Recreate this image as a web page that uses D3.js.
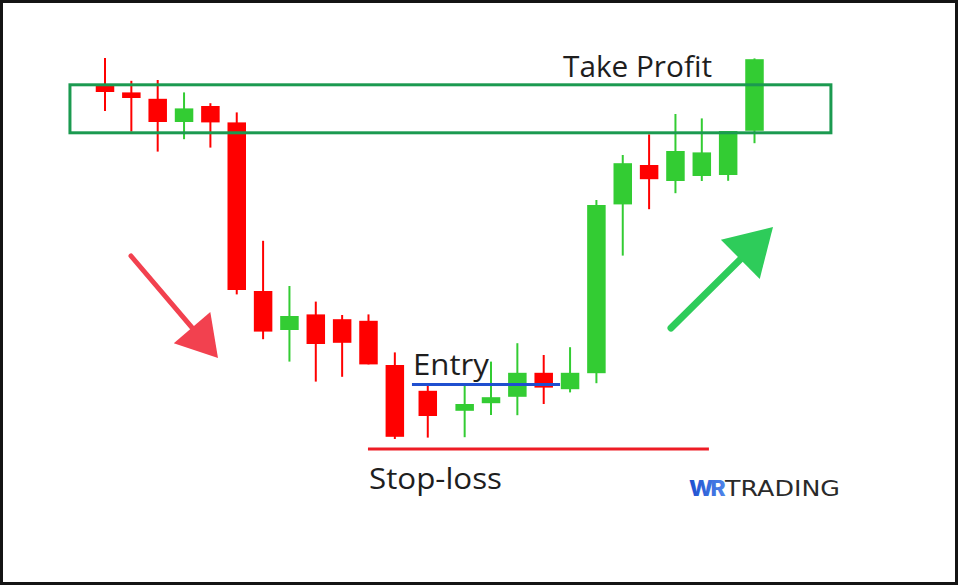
<!DOCTYPE html>
<html><head><meta charset="utf-8">
<script src="https://cdn.jsdelivr.net/npm/d3@7"></script>
<style>html,body{margin:0;padding:0;background:#fff;}svg{display:block;}</style>
</head><body>
<svg id="chart" width="960" height="587"></svg>
<script>
// ---- data ----
const sessions = [0,1,2,3,4,5,6,7,8,9,10,11,12.25,13.65,14.65,15.65,16.65,17.65,18.65,19.65,20.65,21.65,22.65,23.65,24.65];
const opens  = [98.75,96.9,95.3,89.5,93.5,89.4,47.25,37.5,41.4,40.2,39.8,28.75,22.3,17.3,19.2,20.8,26.8,22.7,26.7,68.9,78.75,74.75,76,76.25,87.3];
const highs  = [105.5,99.8,100,96.9,94.2,91.9,59.8,48.5,44.6,41.25,41.4,31.9,23.6,23.75,29.6,34.2,31.25,33.2,70,81.25,86.4,91.5,90.4,87.25,105.4];
const lows   = [92.25,87.1,82.1,85.2,83.1,46.4,35.2,29.6,24.6,25.8,28.9,10.25,10.6,10.7,16.25,16.2,19,21.9,24.2,56.1,67.7,71.7,74.75,74.8,84.2];
const closes = [97,95.5,89.5,92.9,89.4,47.5,37.1,41,34,34.3,28.9,10.8,16,19,20.7,26.8,23.1,26.8,68.75,79.2,75.2,82.25,81.9,87.25,105.2];
const zoneLevels = [86.8, 98.8];         // take-profit zone (low, high)
const zoneSpan = [-1.33, 27.55];         // sessions
const entryLevel = 23.9, entrySpan = [11.65, 17.27];
const stopLevel = 7.75, stopSpan = [9.98, 22.92];
const labels = {tp: "Take Profit", entry: "Entry", stop: "Stop-loss", brandA: "WR", brandB: "TRADING"};

const candles = sessions.map((t,i)=>({t, o:opens[i], h:highs[i], l:lows[i], c:closes[i]}));

const svg = d3.select("#chart");
const x = d3.scaleLinear().domain([0, 24.65]).range([105, 754.5]);
const y = d3.scaleLinear().domain([0, 110]).range([480, 40]);
const RED = "#ff0000", GREEN = "#33cc33";
const bw = 18.5;

// frame
svg.append("rect").attr("x",1.5).attr("y",1.5).attr("width",955).attr("height",582)
  .attr("fill","#fff").attr("stroke","#141414").attr("stroke-width",3);

// candles
const g = svg.append("g");
const cg = g.selectAll("g.c").data(candles).join("g");
cg.append("line")
  .attr("x1",d=>x(d.t)).attr("x2",d=>x(d.t))
  .attr("y1",d=>y(d.h)).attr("y2",d=>y(d.l))
  .attr("stroke",d=>d.c>=d.o?GREEN:RED).attr("stroke-width",2);
cg.append("rect")
  .attr("x",d=>x(d.t)-bw/2).attr("width",bw)
  .attr("y",d=>y(Math.max(d.o,d.c)))
  .attr("height",d=>Math.max(2,Math.abs(y(d.o)-y(d.c))))
  .attr("fill",d=>d.c>=d.o?GREEN:RED);

// take profit zone
svg.append("rect")
  .attr("x",x(zoneSpan[0])).attr("width",x(zoneSpan[1])-x(zoneSpan[0]))
  .attr("y",y(zoneLevels[1])).attr("height",y(zoneLevels[0])-y(zoneLevels[1]))
  .attr("fill","none").attr("stroke","#1b9a50").attr("stroke-width",3);

// entry & stop lines
svg.append("line").attr("x1",x(entrySpan[0])).attr("x2",x(entrySpan[1]))
  .attr("y1",y(entryLevel)).attr("y2",y(entryLevel)).attr("stroke","#1f4fcf").attr("stroke-width",3);
svg.append("line").attr("x1",x(stopSpan[0])).attr("x2",x(stopSpan[1]))
  .attr("y1",y(stopLevel)).attr("y2",y(stopLevel)).attr("stroke","#ee1c25").attr("stroke-width",3);

// text
const font = "'Open Sans', 'Noto Sans', sans-serif";
function label(tx,xx,yy,len){
  svg.append("text").attr("x",xx).attr("y",yy).text(tx)
    .attr("font-family",font).attr("font-size",29.5).attr("fill","#1e1e1e")
    .attr("textLength",len).attr("lengthAdjust","spacingAndGlyphs");
}
label(labels.tp,563,77,149);
label(labels.entry,413,375,76);
label(labels.stop,369,489,133);

// arrows
function arrow(x1,y1,x2,y2,head,color,w){
  const ang = Math.atan2(y2-y1,x2-x1);
  const bx = x2 - head*Math.cos(ang), by = y2 - head*Math.sin(ang);
  svg.append("line").attr("x1",x1).attr("y1",y1).attr("x2",bx).attr("y2",by)
    .attr("stroke",color).attr("stroke-width",w).attr("stroke-linecap","round");
  const px = -Math.sin(ang), py = Math.cos(ang), hw = head*0.6;
  svg.append("path").attr("d",`M${x2},${y2}L${bx+px*hw},${by+py*hw}L${bx-px*hw},${by-py*hw}Z`)
    .attr("fill",color);
}
arrow(131,256,218,358,40,"#f2414f",5);
arrow(671,328,773,227,46,"#2ecc5a",7);

// logo
const defs = svg.append("defs");
const lg = defs.append("linearGradient").attr("id","wrg").attr("x1","0").attr("x2","1").attr("y1","0").attr("y2","0");
lg.append("stop").attr("offset","0").attr("stop-color","#1d4fcf");
lg.append("stop").attr("offset","1").attr("stop-color","#4f86ea");
svg.append("text").attr("x",689).attr("y",496).text(labels.brandA)
  .attr("font-family","Inter, sans-serif").attr("font-weight",800).attr("font-size",21)
  .attr("letter-spacing",-2.5).attr("fill","url(#wrg)")
  .attr("textLength",34).attr("lengthAdjust","spacingAndGlyphs");
svg.append("text").attr("x",725).attr("y",496).text(labels.brandB)
  .attr("font-family","'DejaVu Sans', sans-serif").attr("font-weight",400).attr("font-size",21)
  .attr("fill","#2a2a2a").attr("textLength",115).attr("lengthAdjust","spacingAndGlyphs");
</script>
</body></html>
